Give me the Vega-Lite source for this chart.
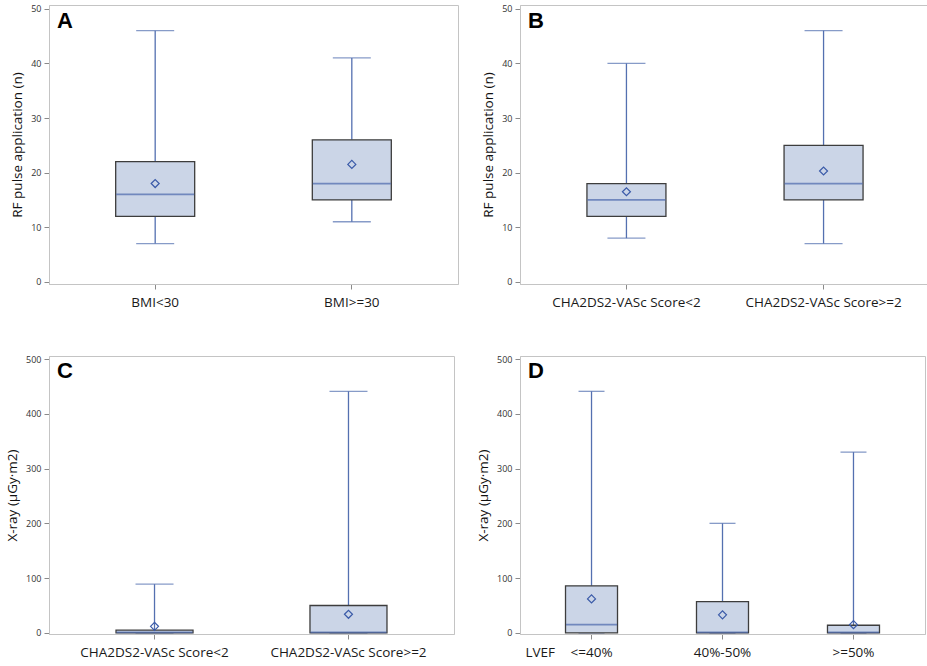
{
  "$schema": "https://vega.github.io/schema/vega-lite/v6.json",
  "padding": {"left": 5, "top": 4, "right": 3, "bottom": 2},
  "background": "white",
  "config": {
    "font": "Open Sans",
    "view": {"stroke": "#c4c4c4", "strokeWidth": 1},
    "axis": {"grid": false, "domainColor": "#c4c4c4", "tickColor": "#8a8a8a", "tickSize": 5},
    "axisX": {"labelFontSize": 13.5, "labelColor": "#1a1a1a", "labelPadding": 6, "labelAngle": 0, "title": null},
    "axisY": {"labelFontSize": 9, "labelColor": "#333333", "labelPadding": 3, "titleFontSize": 13.5, "titleFontWeight": "normal", "titleColor": "#111111", "titlePadding": 6},
    "title": {"font": "Liberation Sans", "fontSize": 22, "fontWeight": "bold", "color": "black", "anchor": "start", "frame": "group", "offset": -28, "dx": 8}
  },
  "datasets": {
    "stats": [
      {"panel": "A", "group": "BMI<30", "min": 7, "q1": 12, "median": 16, "q3": 22, "max": 46, "mean": 18},
      {"panel": "A", "group": "BMI>=30", "min": 11, "q1": 15, "median": 18, "q3": 26, "max": 41, "mean": 21.5},
      {"panel": "B", "group": "CHA2DS2-VASc Score<2", "min": 8, "q1": 12, "median": 15, "q3": 18, "max": 40, "mean": 16.5},
      {"panel": "B", "group": "CHA2DS2-VASc Score>=2", "min": 7, "q1": 15, "median": 18, "q3": 25, "max": 46, "mean": 20.3},
      {"panel": "C", "group": "CHA2DS2-VASc Score<2", "min": 0, "q1": 0, "median": 1, "q3": 5, "max": 89, "mean": 12},
      {"panel": "C", "group": "CHA2DS2-VASc Score>=2", "min": 0, "q1": 0, "median": 1, "q3": 50, "max": 441, "mean": 34},
      {"panel": "D", "group": "<=40%", "min": 0, "q1": 0, "median": 15, "q3": 86, "max": 441, "mean": 62},
      {"panel": "D", "group": "40%-50%", "min": 0, "q1": 0, "median": 1, "q3": 57, "max": 200, "mean": 33},
      {"panel": "D", "group": ">=50%", "min": 0, "q1": 0, "median": 1, "q3": 14, "max": 330, "mean": 15}
    ]
  },
  "vconcat": [
    {
      "hconcat": [
        {
          "width": 409, "height": 279,
          "title": {"text": "A"},
          "data": {"name": "stats"},
          "transform": [{"filter": "datum.panel === 'A'"}],
          "encoding": {
            "x": {"field": "group", "type": "nominal", "sort": null, "scale": {"paddingInner": 0, "paddingOuter": 0.04}}
          },
          "layer": [
            {"mark": {"type": "rule", "color": "#5470b0", "strokeWidth": 1.3}, "encoding": {"y": {"field": "q3", "type": "quantitative", "scale": {"domain": [-0.4, 50.7], "nice": false, "zero": false}, "axis": {"values": [0, 10, 20, 30, 40, 50], "title": "RF pulse application (n)"}}, "y2": {"field": "max"}}},
            {"mark": {"type": "rule", "color": "#5470b0", "strokeWidth": 1.3}, "encoding": {"y": {"field": "min", "type": "quantitative", "scale": {"domain": [-0.4, 50.7], "nice": false, "zero": false}}, "y2": {"field": "q1"}}},
            {"mark": {"type": "tick", "color": "#5470b0", "size": 38, "thickness": 1.3}, "encoding": {"y": {"field": "max", "type": "quantitative", "scale": {"domain": [-0.4, 50.7], "nice": false, "zero": false}}}},
            {"mark": {"type": "tick", "color": "#5470b0", "size": 38, "thickness": 1.3}, "encoding": {"y": {"field": "min", "type": "quantitative", "scale": {"domain": [-0.4, 50.7], "nice": false, "zero": false}}}},
            {"mark": {"type": "bar", "size": 79, "fill": "#cbd5e7", "stroke": "#3d3d3d", "strokeWidth": 1.3}, "encoding": {"y": {"field": "q1", "type": "quantitative", "scale": {"domain": [-0.4, 50.7], "nice": false, "zero": false}}, "y2": {"field": "q3"}}},
            {"mark": {"type": "tick", "color": "#4a66ac", "size": 78, "thickness": 1.8}, "encoding": {"y": {"field": "median", "type": "quantitative", "scale": {"domain": [-0.4, 50.7], "nice": false, "zero": false}}}},
            {"mark": {"type": "point", "shape": "diamond", "filled": false, "size": 64, "color": "#3a5aa8", "strokeWidth": 1.2, "opacity": 1}, "encoding": {"y": {"field": "mean", "type": "quantitative", "scale": {"domain": [-0.4, 50.7], "nice": false, "zero": false}}}}
          ]
        },
        {
          "width": 410, "height": 279,
          "title": {"text": "B"},
          "data": {"name": "stats"},
          "transform": [{"filter": "datum.panel === 'B'"}],
          "encoding": {
            "x": {"field": "group", "type": "nominal", "sort": null, "scale": {"paddingInner": 0, "paddingOuter": 0.04}}
          },
          "layer": [
            {"mark": {"type": "rule", "color": "#5470b0", "strokeWidth": 1.3}, "encoding": {"y": {"field": "q3", "type": "quantitative", "scale": {"domain": [-0.4, 50.7], "nice": false, "zero": false}, "axis": {"values": [0, 10, 20, 30, 40, 50], "title": "RF pulse application (n)"}}, "y2": {"field": "max"}}},
            {"mark": {"type": "rule", "color": "#5470b0", "strokeWidth": 1.3}, "encoding": {"y": {"field": "min", "type": "quantitative", "scale": {"domain": [-0.4, 50.7], "nice": false, "zero": false}}, "y2": {"field": "q1"}}},
            {"mark": {"type": "tick", "color": "#5470b0", "size": 38, "thickness": 1.3}, "encoding": {"y": {"field": "max", "type": "quantitative", "scale": {"domain": [-0.4, 50.7], "nice": false, "zero": false}}}},
            {"mark": {"type": "tick", "color": "#5470b0", "size": 38, "thickness": 1.3}, "encoding": {"y": {"field": "min", "type": "quantitative", "scale": {"domain": [-0.4, 50.7], "nice": false, "zero": false}}}},
            {"mark": {"type": "bar", "size": 79, "fill": "#cbd5e7", "stroke": "#3d3d3d", "strokeWidth": 1.3}, "encoding": {"y": {"field": "q1", "type": "quantitative", "scale": {"domain": [-0.4, 50.7], "nice": false, "zero": false}}, "y2": {"field": "q3"}}},
            {"mark": {"type": "tick", "color": "#4a66ac", "size": 78, "thickness": 1.8}, "encoding": {"y": {"field": "median", "type": "quantitative", "scale": {"domain": [-0.4, 50.7], "nice": false, "zero": false}}}},
            {"mark": {"type": "point", "shape": "diamond", "filled": false, "size": 64, "color": "#3a5aa8", "strokeWidth": 1.2, "opacity": 1}, "encoding": {"y": {"field": "mean", "type": "quantitative", "scale": {"domain": [-0.4, 50.7], "nice": false, "zero": false}}}}
          ]
        }
      ],
      "spacing": 22
    },
    {
      "hconcat": [
        {
          "width": 405, "height": 278,
          "title": {"text": "C"},
          "data": {"name": "stats"},
          "transform": [{"filter": "datum.panel === 'C'"}],
          "encoding": {
            "x": {"field": "group", "type": "nominal", "sort": null, "scale": {"paddingInner": 0, "paddingOuter": 0.044}}
          },
          "layer": [
            {"mark": {"type": "rule", "color": "#5470b0", "strokeWidth": 1.3}, "encoding": {"y": {"field": "q3", "type": "quantitative", "scale": {"domain": [-2, 505.5], "nice": false, "zero": false}, "axis": {"values": [0, 100, 200, 300, 400, 500], "title": "X-ray (µGy·m2)"}}, "y2": {"field": "max"}}},
            {"mark": {"type": "rule", "color": "#5470b0", "strokeWidth": 1.3}, "encoding": {"y": {"field": "min", "type": "quantitative", "scale": {"domain": [-2, 505.5], "nice": false, "zero": false}}, "y2": {"field": "q1"}}},
            {"mark": {"type": "tick", "color": "#5470b0", "size": 38, "thickness": 1.3}, "encoding": {"y": {"field": "max", "type": "quantitative", "scale": {"domain": [-2, 505.5], "nice": false, "zero": false}}}},
            {"mark": {"type": "tick", "color": "#5470b0", "size": 38, "thickness": 1.3}, "encoding": {"y": {"field": "min", "type": "quantitative", "scale": {"domain": [-2, 505.5], "nice": false, "zero": false}}}},
            {"mark": {"type": "bar", "size": 77, "fill": "#cbd5e7", "stroke": "#3d3d3d", "strokeWidth": 1.3}, "encoding": {"y": {"field": "q1", "type": "quantitative", "scale": {"domain": [-2, 505.5], "nice": false, "zero": false}}, "y2": {"field": "q3"}}},
            {"mark": {"type": "tick", "color": "#4a66ac", "size": 76, "thickness": 1.8}, "encoding": {"y": {"field": "median", "type": "quantitative", "scale": {"domain": [-2, 505.5], "nice": false, "zero": false}}}},
            {"mark": {"type": "point", "shape": "diamond", "filled": false, "size": 64, "color": "#3a5aa8", "strokeWidth": 1.2, "opacity": 1}, "encoding": {"y": {"field": "mean", "type": "quantitative", "scale": {"domain": [-2, 505.5], "nice": false, "zero": false}}}}
          ]
        },
        {
          "width": 405, "height": 278,
          "title": {"text": "D"},
          "data": {"name": "stats"},
          "transform": [{"filter": "datum.panel === 'D'"}],
          "encoding": {
            "x": {"field": "group", "type": "nominal", "sort": null, "scale": {"paddingInner": 0, "paddingOuter": 0.046}, "axis": {"title": "LVEF", "titleFontSize": 13.5, "titleFontWeight": "normal", "titleColor": "#1a1a1a", "titleAnchor": "start", "titleAlign": "left", "titleBaseline": "top", "titleX": 5, "titleY": 11}}
          },
          "layer": [
            {"mark": {"type": "rule", "color": "#5470b0", "strokeWidth": 1.3}, "encoding": {"y": {"field": "q3", "type": "quantitative", "scale": {"domain": [-2, 505.5], "nice": false, "zero": false}, "axis": {"values": [0, 100, 200, 300, 400, 500], "title": "X-ray (µGy·m2)"}}, "y2": {"field": "max"}}},
            {"mark": {"type": "rule", "color": "#5470b0", "strokeWidth": 1.3}, "encoding": {"y": {"field": "min", "type": "quantitative", "scale": {"domain": [-2, 505.5], "nice": false, "zero": false}}, "y2": {"field": "q1"}}},
            {"mark": {"type": "tick", "color": "#5470b0", "size": 26, "thickness": 1.3}, "encoding": {"y": {"field": "max", "type": "quantitative", "scale": {"domain": [-2, 505.5], "nice": false, "zero": false}}}},
            {"mark": {"type": "tick", "color": "#5470b0", "size": 26, "thickness": 1.3}, "encoding": {"y": {"field": "min", "type": "quantitative", "scale": {"domain": [-2, 505.5], "nice": false, "zero": false}}}},
            {"mark": {"type": "bar", "size": 52, "fill": "#cbd5e7", "stroke": "#3d3d3d", "strokeWidth": 1.3}, "encoding": {"y": {"field": "q1", "type": "quantitative", "scale": {"domain": [-2, 505.5], "nice": false, "zero": false}}, "y2": {"field": "q3"}}},
            {"mark": {"type": "tick", "color": "#4a66ac", "size": 51, "thickness": 1.8}, "encoding": {"y": {"field": "median", "type": "quantitative", "scale": {"domain": [-2, 505.5], "nice": false, "zero": false}}}},
            {"mark": {"type": "point", "shape": "diamond", "filled": false, "size": 64, "color": "#3a5aa8", "strokeWidth": 1.2, "opacity": 1}, "encoding": {"y": {"field": "mean", "type": "quantitative", "scale": {"domain": [-2, 505.5], "nice": false, "zero": false}}}}
          ]
        }
      ],
      "spacing": 21
    }
  ],
  "spacing": 45
}
